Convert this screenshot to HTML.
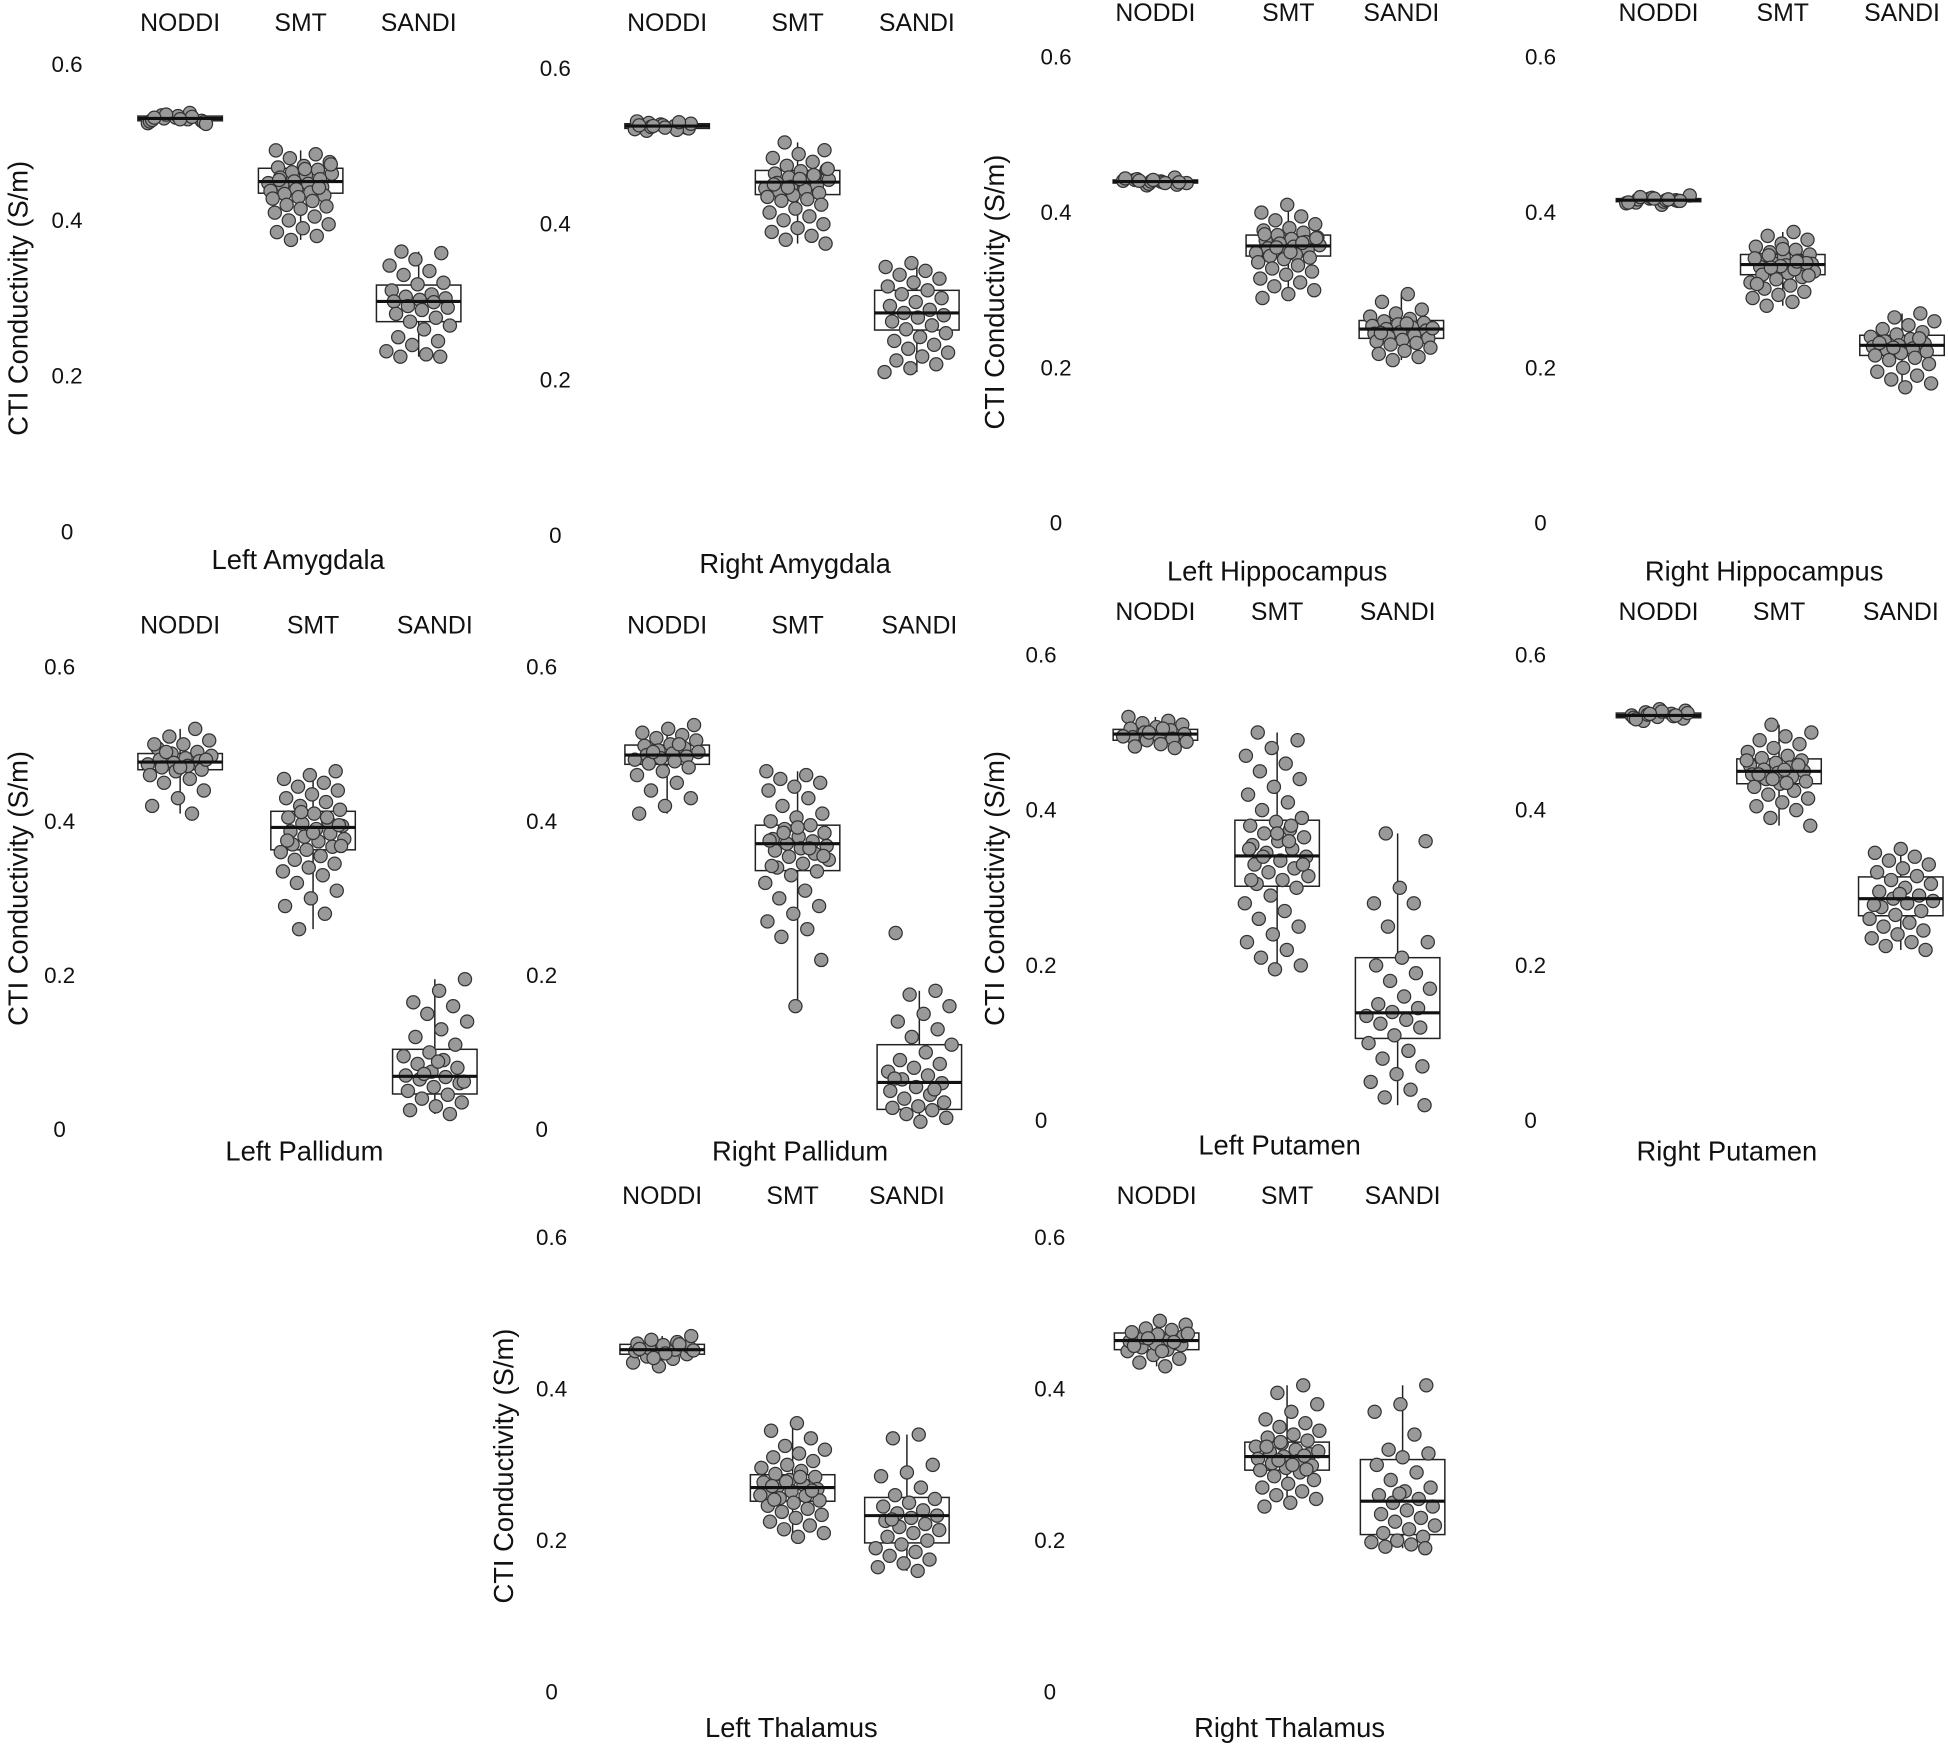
<!DOCTYPE html>
<html><head><meta charset="utf-8"><style>
html,body{margin:0;padding:0;background:#fff;}
svg{display:block;font-family:"Liberation Sans",sans-serif;}
</style></head><body>
<svg id="fig" width="1948" height="1747" viewBox="0 0 1568 1406" xmlns="http://www.w3.org/2000/svg"></svg>
<script>
const categories = ["NODDI","SMT","SANDI"];
const regions = ["Left Amygdala","Right Amygdala","Left Hippocampus","Right Hippocampus","Left Pallidum","Right Pallidum","Left Putamen","Right Putamen","Left Thalamus","Right Thalamus"];
const yTicks = [0,0.2,0.4,0.6];
const yTickLabels = ["0","0.2","0.4","0.6"];
// box stats per region per category: [whiskerLow, q1, median, q3, whiskerHigh]
const boxStats = [
 [[0.525,0.528,0.531,0.534,0.538],[0.375,0.435,0.45,0.467,0.49],[0.225,0.27,0.296,0.317,0.36]],
 [[0.52,0.523,0.526,0.529,0.532],[0.375,0.438,0.454,0.469,0.505],[0.21,0.264,0.286,0.315,0.35]],
 [[0.435,0.438,0.44,0.442,0.445],[0.29,0.344,0.357,0.371,0.41],[0.21,0.238,0.25,0.261,0.295]],
 [[0.41,0.414,0.416,0.418,0.422],[0.28,0.32,0.333,0.346,0.375],[0.175,0.216,0.229,0.242,0.27]],
 [[0.41,0.467,0.477,0.488,0.52],[0.26,0.363,0.392,0.413,0.465],[0.02,0.046,0.069,0.104,0.195]],
 [[0.41,0.474,0.486,0.499,0.525],[0.16,0.336,0.371,0.395,0.465],[0.01,0.026,0.061,0.11,0.18]],
 [[0.48,0.49,0.498,0.504,0.52],[0.195,0.302,0.341,0.387,0.5],[0.02,0.106,0.139,0.21,0.37]],
 [[0.515,0.519,0.522,0.525,0.53],[0.38,0.434,0.45,0.466,0.51],[0.22,0.264,0.286,0.314,0.35]],
 [[0.43,0.446,0.452,0.459,0.47],[0.205,0.252,0.27,0.287,0.355],[0.16,0.197,0.233,0.257,0.34]],
 [[0.43,0.452,0.464,0.474,0.49],[0.245,0.293,0.311,0.33,0.405],[0.19,0.208,0.252,0.307,0.405]]
];
const noddiPoints = [
 [0.525,0.53,0.535,0.528,0.532,0.527,0.538,0.531,0.526,0.534,0.529,0.533,0.536,0.524,0.53,0.532],
 [0.52,0.524,0.528,0.522,0.526,0.53,0.523,0.527,0.532,0.521,0.525,0.529,0.524,0.527,0.531,0.526],
 [0.435,0.438,0.44,0.442,0.445,0.437,0.441,0.439,0.443,0.436,0.44,0.444,0.438,0.441,0.439,0.442],
 [0.41,0.413,0.416,0.418,0.422,0.414,0.417,0.415,0.419,0.412,0.416,0.42,0.415,0.418,0.413,0.417],
 [0.52,0.51,0.505,0.5,0.495,0.49,0.488,0.485,0.482,0.48,0.478,0.476,0.474,0.472,0.47,0.467,0.465,0.46,0.455,0.45,0.44,0.43,0.42,0.41,0.49,0.48,0.47,0.5],
 [0.525,0.52,0.515,0.512,0.508,0.505,0.5,0.498,0.495,0.492,0.49,0.488,0.486,0.484,0.482,0.48,0.478,0.475,0.47,0.465,0.46,0.45,0.44,0.43,0.42,0.41,0.5,0.49],
 [0.52,0.515,0.512,0.51,0.507,0.505,0.503,0.5,0.498,0.496,0.494,0.492,0.49,0.488,0.485,0.482,0.48,0.5,0.495,0.505],
 [0.515,0.518,0.52,0.522,0.524,0.526,0.528,0.53,0.519,0.521,0.523,0.525,0.527,0.517,0.522,0.524],
 [0.43,0.435,0.44,0.443,0.446,0.448,0.45,0.452,0.454,0.456,0.458,0.46,0.462,0.465,0.47,0.447,0.453,0.459,0.441,0.451],
 [0.43,0.435,0.44,0.445,0.45,0.452,0.455,0.458,0.46,0.463,0.465,0.468,0.47,0.472,0.475,0.478,0.48,0.485,0.49,0.457,0.462,0.467,0.473,0.45]
];
const smtPoints = [
 [0.49,0.485,0.48,0.475,0.47,0.468,0.465,0.462,0.46,0.458,0.455,0.453,0.45,0.448,0.447,0.445,0.443,0.44,0.438,0.436,0.434,0.432,0.43,0.428,0.425,0.42,0.418,0.415,0.41,0.405,0.4,0.395,0.39,0.385,0.38,0.375,0.472,0.466,0.452,0.442],
 [0.505,0.495,0.49,0.485,0.48,0.475,0.47,0.468,0.465,0.462,0.46,0.457,0.455,0.453,0.45,0.448,0.446,0.444,0.442,0.44,0.437,0.435,0.432,0.43,0.425,0.42,0.415,0.41,0.405,0.4,0.395,0.39,0.385,0.38,0.375,0.458,0.451,0.463,0.447,0.471],
 [0.41,0.4,0.395,0.39,0.385,0.38,0.377,0.374,0.371,0.368,0.366,0.364,0.362,0.36,0.358,0.356,0.354,0.352,0.35,0.348,0.346,0.344,0.342,0.34,0.336,0.332,0.328,0.324,0.32,0.315,0.31,0.305,0.3,0.295,0.29,0.361,0.355,0.367,0.349,0.372],
 [0.375,0.37,0.365,0.36,0.356,0.352,0.349,0.346,0.343,0.34,0.338,0.336,0.334,0.332,0.33,0.328,0.326,0.324,0.322,0.32,0.317,0.314,0.31,0.306,0.302,0.298,0.294,0.29,0.285,0.28,0.335,0.331,0.341,0.327,0.345,0.319,0.353,0.308,0.337,0.329],
 [0.465,0.46,0.455,0.45,0.445,0.44,0.435,0.43,0.425,0.42,0.415,0.41,0.405,0.4,0.397,0.394,0.39,0.387,0.384,0.38,0.377,0.374,0.37,0.367,0.363,0.36,0.355,0.35,0.345,0.34,0.335,0.33,0.32,0.31,0.3,0.29,0.28,0.26,0.395,0.385,0.375,0.405,0.412,0.368],
 [0.465,0.46,0.455,0.45,0.445,0.44,0.43,0.42,0.41,0.405,0.4,0.395,0.39,0.385,0.38,0.377,0.374,0.371,0.368,0.365,0.362,0.358,0.354,0.35,0.345,0.34,0.335,0.33,0.32,0.31,0.3,0.29,0.28,0.27,0.26,0.25,0.22,0.16,0.375,0.365,0.385,0.355,0.392,0.342],
 [0.5,0.49,0.48,0.47,0.46,0.45,0.44,0.43,0.42,0.41,0.4,0.39,0.385,0.38,0.375,0.37,0.365,0.36,0.355,0.35,0.345,0.34,0.335,0.33,0.325,0.32,0.315,0.31,0.305,0.3,0.29,0.28,0.27,0.26,0.25,0.24,0.23,0.22,0.21,0.2,0.195,0.35,0.36,0.34,0.33,0.37,0.31,0.38],
 [0.51,0.5,0.495,0.49,0.485,0.48,0.475,0.47,0.467,0.464,0.461,0.458,0.455,0.452,0.45,0.448,0.446,0.443,0.44,0.437,0.434,0.43,0.425,0.42,0.415,0.41,0.405,0.4,0.39,0.38,0.452,0.446,0.458,0.44,0.464,0.435],
 [0.355,0.345,0.335,0.325,0.32,0.315,0.31,0.305,0.3,0.296,0.292,0.288,0.284,0.28,0.277,0.274,0.271,0.268,0.265,0.262,0.259,0.256,0.253,0.25,0.246,0.242,0.238,0.234,0.23,0.225,0.22,0.215,0.21,0.205,0.272,0.266,0.278,0.26,0.284,0.254],
 [0.405,0.395,0.38,0.37,0.36,0.355,0.35,0.345,0.34,0.336,0.332,0.328,0.324,0.32,0.317,0.314,0.311,0.308,0.305,0.302,0.299,0.296,0.293,0.29,0.285,0.28,0.275,0.27,0.265,0.26,0.255,0.25,0.245,0.312,0.306,0.318,0.3,0.324,0.294,0.33]
];
const sandiPoints = [
 [0.36,0.358,0.35,0.342,0.335,0.33,0.32,0.318,0.31,0.305,0.302,0.3,0.298,0.296,0.295,0.29,0.288,0.285,0.28,0.275,0.27,0.265,0.26,0.25,0.245,0.24,0.232,0.228,0.225,0.225],
 [0.35,0.345,0.34,0.335,0.33,0.325,0.32,0.315,0.31,0.305,0.3,0.295,0.29,0.286,0.283,0.28,0.275,0.27,0.265,0.26,0.255,0.25,0.245,0.24,0.235,0.23,0.225,0.22,0.215,0.21],
 [0.295,0.285,0.275,0.27,0.266,0.263,0.26,0.258,0.256,0.254,0.252,0.25,0.248,0.246,0.244,0.242,0.24,0.238,0.236,0.234,0.232,0.23,0.226,0.222,0.218,0.214,0.21,0.251,0.257,0.245],
 [0.27,0.265,0.26,0.255,0.25,0.246,0.243,0.24,0.237,0.234,0.231,0.229,0.227,0.225,0.223,0.221,0.219,0.216,0.213,0.21,0.205,0.2,0.195,0.19,0.185,0.18,0.175,0.232,0.238,0.226],
 [0.195,0.18,0.165,0.16,0.15,0.14,0.13,0.12,0.11,0.1,0.095,0.09,0.085,0.08,0.075,0.07,0.068,0.065,0.06,0.055,0.05,0.045,0.04,0.035,0.03,0.025,0.02,0.072,0.062,0.088],
 [0.255,0.18,0.175,0.16,0.15,0.14,0.13,0.12,0.11,0.1,0.09,0.085,0.08,0.075,0.07,0.065,0.06,0.055,0.05,0.045,0.04,0.035,0.03,0.028,0.025,0.02,0.015,0.01,0.066,0.052],
 [0.37,0.36,0.3,0.28,0.28,0.25,0.23,0.21,0.2,0.19,0.18,0.17,0.16,0.15,0.145,0.14,0.135,0.13,0.125,0.12,0.11,0.1,0.09,0.08,0.07,0.06,0.05,0.04,0.03,0.02],
 [0.35,0.345,0.34,0.335,0.33,0.325,0.32,0.315,0.31,0.305,0.3,0.295,0.29,0.286,0.283,0.28,0.275,0.27,0.265,0.26,0.255,0.25,0.245,0.24,0.235,0.23,0.225,0.22,0.292,0.278],
 [0.34,0.335,0.3,0.29,0.285,0.27,0.26,0.255,0.25,0.245,0.24,0.236,0.233,0.23,0.226,0.222,0.218,0.214,0.21,0.205,0.2,0.195,0.19,0.185,0.18,0.175,0.17,0.165,0.16,0.228],
 [0.405,0.38,0.37,0.34,0.32,0.315,0.31,0.3,0.29,0.28,0.27,0.265,0.26,0.255,0.25,0.245,0.24,0.235,0.23,0.225,0.22,0.215,0.21,0.205,0.2,0.198,0.195,0.192,0.19,0.262]
];
// layout (display units)
const layout = [
 {tx:54,top:52,zero:428,cx:[145,242,337],hy:18,ttx:240,tty:451,yt:[14,240]},
 {tx:447,top:55,zero:431,cx:[537,642,738],hy:18,ttx:640,tty:454},
 {tx:850,top:46,zero:421,cx:[930,1037,1128],hy:10,ttx:1028,tty:460,yt:[800,235]},
 {tx:1240,top:46,zero:421,cx:[1335,1435,1531],hy:10,ttx:1420,tty:460},
 {tx:48,top:537,zero:909,cx:[145,252,350],hy:503,ttx:245,tty:927,yt:[14,715]},
 {tx:436,top:537,zero:909,cx:[537,642,740],hy:503,ttx:644,tty:927},
 {tx:838,top:527,zero:902,cx:[930,1028,1125],hy:492,ttx:1030,tty:922,yt:[800,715]},
 {tx:1232,top:527,zero:902,cx:[1335,1432,1530],hy:492,ttx:1390,tty:927},
 {tx:444,top:996,zero:1362,cx:[533,638,730],hy:962,ttx:637,tty:1391,yt:[405,1180]},
 {tx:845,top:996,zero:1362,cx:[931,1036,1129],hy:962,ttx:1038,tty:1391}
];
const NS="http://www.w3.org/2000/svg";
const svg=document.getElementById('fig');
function mk(tag,attrs,parent){const e=document.createElementNS(NS,tag);for(const k in attrs)e.setAttribute(k,attrs[k]);parent.appendChild(e);return e;}
const allPts=[noddiPoints,smtPoints,sandiPoints];
regions.forEach((reg,p)=>{
 const L=layout[p];
 const g=mk('g',{},svg);
 
 
 const y=v=>L.zero-(L.zero-L.top)*v/0.6;
 yTicks.forEach((t,i)=>{
  const e=mk('text',{x:L.tx,y:y(t)+6,'text-anchor':'middle','font-size':18,fill:'#111'},g);
  e.textContent=yTickLabels[i];
  
  
 });
 if(L.yt){
  const e=mk('text',{x:L.yt[0],y:L.yt[1],'text-anchor':'middle','font-size':22,fill:'#111',transform:`rotate(-90 ${L.yt[0]} ${L.yt[1]}) translate(0 8)`},g);
  e.textContent='CTI Conductivity (S/m)';
  
  
 }
 const t=mk('text',{x:L.ttx,y:L.tty+7,'text-anchor':'middle','font-size':22,fill:'#111'},g);
 t.textContent=reg;
 
 
 categories.forEach((c,ci)=>{
  const cx=L.cx[ci];
  const h=mk('text',{x:cx,y:L.hy+7,'text-anchor':'middle','font-size':20,fill:'#111'},g);
  h.textContent=c;
  
  
  const s=boxStats[p][ci];const hw=34;
  const bg=mk('g',{},g);
  
  
  mk('line',{x1:cx,x2:cx,y1:y(s[0]),y2:y(s[1]),stroke:'#222','stroke-width':1.2},bg);
  mk('line',{x1:cx,x2:cx,y1:y(s[3]),y2:y(s[4]),stroke:'#222','stroke-width':1.2},bg);
  mk('rect',{x:cx-hw,y:y(s[3]),width:2*hw,height:Math.max(0.5,y(s[1])-y(s[3])),fill:'#fff',stroke:'#222','stroke-width':1.2},bg);
  const pts=allPts[ci][p];
  pts.forEach((v,i)=>{
   const jit=(((i*37+p*11+ci*7)%61)/60-0.5)*52;
   const d=mk('circle',{cx:cx+jit,cy:y(v),r:5.3,fill:'#999',stroke:'#333','stroke-width':1},bg);
   
   
  });
  mk('line',{x1:cx-hw,x2:cx+hw,y1:y(s[2]),y2:y(s[2]),stroke:'#111','stroke-width':2.5},bg);
 });
});
</script>
</body></html>
